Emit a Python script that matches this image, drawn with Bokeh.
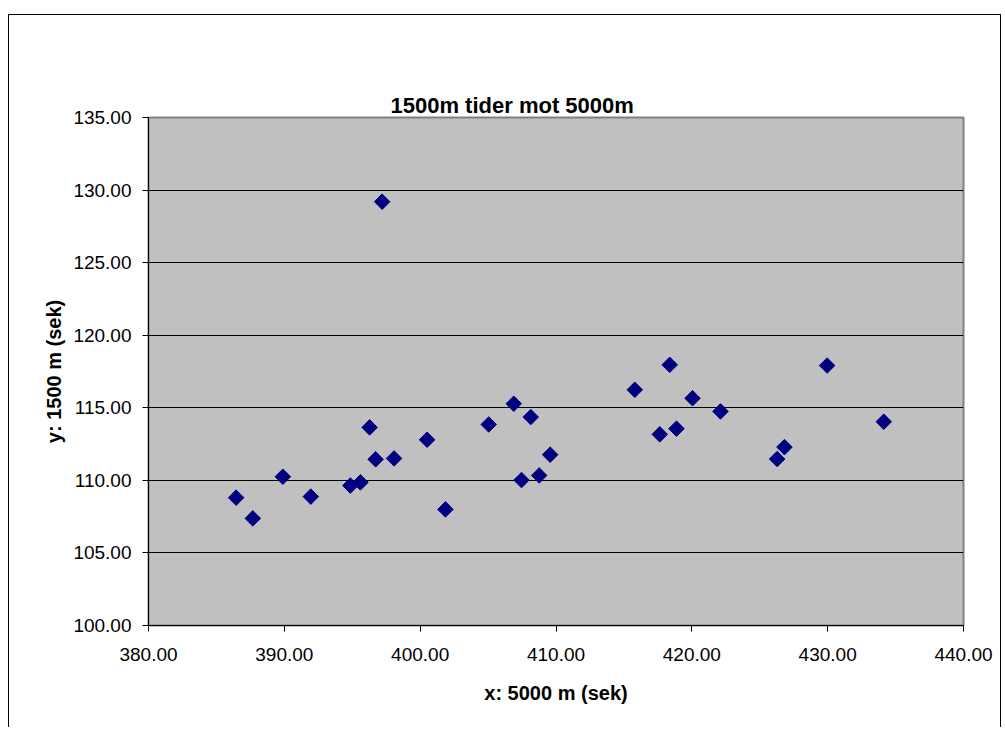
import math
from bokeh.plotting import figure
from bokeh.models import (Range1d, FixedTicker, PrintfTickFormatter, Title,
                          ColumnDataSource)
from bokeh.embed import file_html
from bokeh.resources import INLINE

# ---- data ----
x_5000 = [386.45, 387.68, 389.89, 391.95, 394.86, 395.60, 396.28, 396.72,
          397.20, 398.08, 400.51, 401.86, 405.05, 406.89, 407.46, 408.14,
          408.76, 409.57, 415.80, 417.64, 418.37, 418.87, 420.05, 422.11,
          426.28, 426.82, 429.96, 434.13]
y_1500 = [108.81, 107.38, 110.25, 108.88, 109.64, 109.86, 113.65, 111.45,
          129.20, 111.51, 112.80, 108.00, 113.85, 115.28, 110.02, 114.36,
          110.34, 111.77, 116.24, 113.17, 117.96, 113.56, 115.66, 114.75,
          111.47, 112.29, 117.91, 114.04]
x_ticks = [380, 390, 400, 410, 420, 430, 440]
y_ticks = [100, 105, 110, 115, 120, 125, 130, 135]
title_text = "1500m tider mot 5000m"
x_label = "x: 5000 m (sek)"
y_label = "y: 1500 m (sek)"

FONT = "Liberation Sans"

# ---- layout constants (canvas pixels) ----
W, H = 1001, 727
FL, FR, FT, FB = 148, 963, 117, 625   # frame edges on the canvas

border_css = """
:host { position: relative; overflow: hidden; }
:host::after {
  content: "";
  position: absolute;
  left: 8px; top: 14px; right: 0px; bottom: -10px;
  border: 1px solid black;
  pointer-events: none;
  z-index: 100;
}
"""

p = figure(width=W, height=H, output_backend="svg", toolbar_location=None,
           x_range=Range1d(x_ticks[0], x_ticks[-1]),
           y_range=Range1d(y_ticks[0], y_ticks[-1]),
           min_border_left=FL, min_border_right=W - FR,
           min_border_top=FT, min_border_bottom=H - FB,
           stylesheets=[border_css])
p.background_fill_color = "#C0C0C0"
p.border_fill_color = "white"
p.outline_line_color = "#808080"
p.outline_line_width = 2

# real title first (outermost), then an invisible spacer next to the frame
p.add_layout(Title(text=title_text, align="left", text_font=FONT,
                   text_font_size="22px", text_font_style="bold",
                   text_color="black", standoff=0, offset=242), "above")
p.add_layout(Title(text=".", text_font=FONT, text_font_size="22px",
                   text_alpha=0, standoff=34), "above")

# grid
p.xgrid.visible = False
p.ygrid.grid_line_color = "black"
p.ygrid.grid_line_width = 1

# axes
for ax in (p.xaxis[0], p.yaxis[0]):
    ax.axis_line_color = "black"
    ax.axis_line_width = 1
    ax.major_tick_line_color = "black"
    ax.major_tick_in = 0
    ax.major_tick_out = 6
    ax.minor_tick_line_color = None
    ax.major_label_text_font = FONT
    ax.major_label_text_font_size = "19px"
    ax.major_label_text_color = "black"
    ax.axis_label_text_font = FONT
    ax.axis_label_text_font_size = "20px"
    ax.axis_label_text_font_style = "bold"
    ax.axis_label_text_color = "black"
    ax.formatter = PrintfTickFormatter(format="%.2f")

p.xaxis[0].ticker = FixedTicker(ticks=x_ticks)
p.yaxis[0].ticker = FixedTicker(ticks=y_ticks)
p.xaxis[0].axis_label = x_label
p.yaxis[0].axis_label = y_label
p.xaxis[0].major_label_standoff = 16
p.xaxis[0].axis_label_standoff = 18
p.yaxis[0].major_label_standoff = 11
p.yaxis[0].axis_label_standoff = 5

# data
src = ColumnDataSource(dict(x=x_5000, y=y_1500))
p.scatter("x", "y", source=src, marker="square", size=11, angle=math.pi / 4,
          fill_color="#000080", line_color="#000080", line_width=1)

open("out.html", "w").write(file_html(p, INLINE))
